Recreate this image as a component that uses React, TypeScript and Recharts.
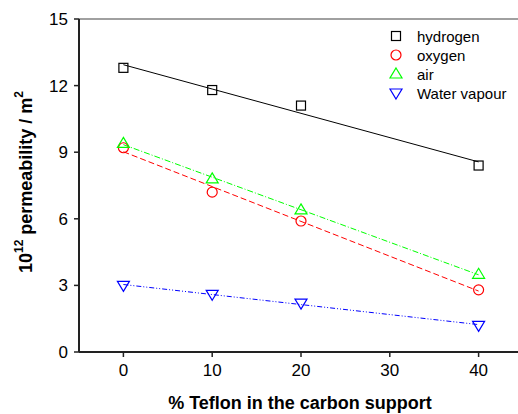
import React from "react";
import { ComposedChart, Line, XAxis, YAxis, ReferenceLine } from "recharts";

const percentTeflon = [0, 10, 20, 40];
const hydrogen = [12.8, 11.8, 11.1, 8.4];
const oxygen = [9.2, 7.2, 5.9, 2.8];
const air = [9.4, 7.8, 6.4, 3.5];
const waterVapour = [3.0, 2.6, 2.2, 1.2];
const xTicks = [0, 10, 20, 30, 40];
const yTicks = [0, 3, 6, 9, 12, 15];

function linFit(ys: number[]) {
  const n = ys.length;
  const mx = percentTeflon.reduce((a, b) => a + b, 0) / n;
  const my = ys.reduce((a, b) => a + b, 0) / n;
  let sxy = 0, sxx = 0;
  percentTeflon.forEach((x, i) => { sxy += (x - mx) * (ys[i] - my); sxx += (x - mx) * (x - mx); });
  const b = sxy / sxx;
  const a = my - b * mx;
  return (x: number) => a + b * x;
}

const fH = linFit(hydrogen), fO = linFit(oxygen), fA = linFit(air), fW = linFit(waterVapour);

const rows = percentTeflon.map((x, i) => ({
  x,
  hydrogen: hydrogen[i], oxygen: oxygen[i], air: air[i], water: waterVapour[i],
  hydrogenFit: fH(x), oxygenFit: fO(x), airFit: fA(x), waterFit: fW(x),
}));

const FONT = "'Liberation Sans', Arial, Helvetica, sans-serif";

const Square = (color: string) => (p: any) => (
  <rect key={`s${p.index}`} x={p.cx - 4.5} y={p.cy - 4.5} width={9} height={9} fill="none" stroke={color} strokeWidth={1.2} />
);
const Circle = (color: string) => (p: any) => (
  <circle key={`c${p.index}`} cx={p.cx} cy={p.cy} r={5} fill="none" stroke={color} strokeWidth={1.2} />
);
const TriUp = (color: string) => (p: any) => (
  <path key={`u${p.index}`} d={`M${p.cx},${p.cy - 6} L${p.cx + 6},${p.cy + 4} L${p.cx - 6},${p.cy + 4} Z`} fill="none" stroke={color} strokeWidth={1.2} />
);
const TriDown = (color: string) => (p: any) => (
  <path key={`d${p.index}`} d={`M${p.cx},${p.cy + 6} L${p.cx + 6},${p.cy - 4} L${p.cx - 6},${p.cy - 4} Z`} fill="none" stroke={color} strokeWidth={1.2} />
);

const legendItems = [
  { name: "hydrogen", color: "#000000", kind: "square" },
  { name: "oxygen", color: "#ff0000", kind: "circle" },
  { name: "air", color: "#00ff00", kind: "up" },
  { name: "Water vapour", color: "#0000ff", kind: "down" },
];

const LegendOverlay = () => (
  <svg width={132} height={80} style={{ position: "absolute", left: 386, top: 26 }}>
    {legendItems.map((it, i) => {
      const cy = 10 + i * 19;
      const cx = 10;
      let m: React.ReactNode;
      if (it.kind === "square") m = <rect x={cx - 4.5} y={cy - 4.5} width={9} height={9} fill="none" stroke={it.color} strokeWidth={1.2} />;
      else if (it.kind === "circle") m = <circle cx={cx} cy={cy} r={5} fill="none" stroke={it.color} strokeWidth={1.2} />;
      else if (it.kind === "up") m = <path d={`M${cx},${cy - 6} L${cx + 6},${cy + 4} L${cx - 6},${cy + 4} Z`} fill="none" stroke={it.color} strokeWidth={1.2} />;
      else m = <path d={`M${cx},${cy + 6} L${cx + 6},${cy - 4} L${cx - 6},${cy - 4} Z`} fill="none" stroke={it.color} strokeWidth={1.2} />;
      return (
        <g key={it.name}>
          {m}
          <text x={31} y={cy} dominantBaseline="central" fontFamily={FONT} fontSize={15} fill="#000">{it.name}</text>
        </g>
      );
    })}
  </svg>
);

const YLabel = () => (
  <text
    x={26}
    y={182}
    transform="rotate(-90, 26, 182)"
    textAnchor="middle"
    dominantBaseline="central"
    fontFamily={FONT}
    fontSize={18}
    fontWeight="bold"
    fill="#000"
  >
    10<tspan fontSize={12} dy={-7}>12</tspan>
    <tspan dy={7}> permeability / m</tspan>
    <tspan fontSize={12} dy={-7}>2</tspan>
  </text>
);

const XLabel = () => (
  <text x={300} y={403} textAnchor="middle" dominantBaseline="central" fontFamily={FONT} fontSize={18} fontWeight="bold" fill="#000">
    % Teflon in the carbon support
  </text>
);

export default function App() {
  return (
    <div style={{ position: "fixed", left: 0, top: 0, width: 518, height: 414, overflow: "hidden", background: "#fff" }}>
      <ComposedChart width={530} height={414} data={rows} margin={{ top: 19, right: 7, bottom: 0, left: 0 }}>
        <XAxis
          type="number"
          dataKey="x"
          domain={[-5, 45]}
          ticks={xTicks}
          allowDataOverflow
          height={62}
          axisLine={{ stroke: "#222", strokeWidth: 2 }}
          tickLine={{ stroke: "#222", strokeWidth: 1.5 }}
          tickSize={5}
          tickMargin={7}
          tick={{ fontFamily: FONT, fontSize: 17, fill: "#000" }}
          label={{ content: () => <XLabel /> }}
        />
        <YAxis
          type="number"
          domain={[0, 15]}
          ticks={yTicks}
          allowDataOverflow
          width={79}
          axisLine={{ stroke: "#222", strokeWidth: 2 }}
          tickLine={{ stroke: "#222", strokeWidth: 1.5 }}
          tickSize={5}
          tickMargin={6}
          tick={{ fontFamily: FONT, fontSize: 17, fill: "#000" }}
          label={{ content: () => <YLabel /> }}
        />
        <ReferenceLine y={15} stroke="#808080" strokeWidth={1.5} />
        <Line type="linear" dataKey="hydrogenFit" stroke="#000" strokeWidth={1} dot={false} activeDot={false} isAnimationActive={false} />
        <Line type="linear" dataKey="oxygenFit" stroke="#ff0000" strokeWidth={1} strokeDasharray="6 3" dot={false} activeDot={false} isAnimationActive={false} />
        <Line type="linear" dataKey="airFit" stroke="#00ff00" strokeWidth={1} strokeDasharray="6 2 1 2" dot={false} activeDot={false} isAnimationActive={false} />
        <Line type="linear" dataKey="waterFit" stroke="#0000ff" strokeWidth={1} strokeDasharray="5 2 1 2 1 2" dot={false} activeDot={false} isAnimationActive={false} />
        <Line type="linear" dataKey="hydrogen" stroke="none" dot={Square("#000")} activeDot={false} isAnimationActive={false} />
        <Line type="linear" dataKey="oxygen" stroke="none" dot={Circle("#ff0000")} activeDot={false} isAnimationActive={false} />
        <Line type="linear" dataKey="air" stroke="none" dot={TriUp("#00ff00")} activeDot={false} isAnimationActive={false} />
        <Line type="linear" dataKey="water" stroke="none" dot={TriDown("#0000ff")} activeDot={false} isAnimationActive={false} />
      </ComposedChart>
      <LegendOverlay />
    </div>
  );
}
